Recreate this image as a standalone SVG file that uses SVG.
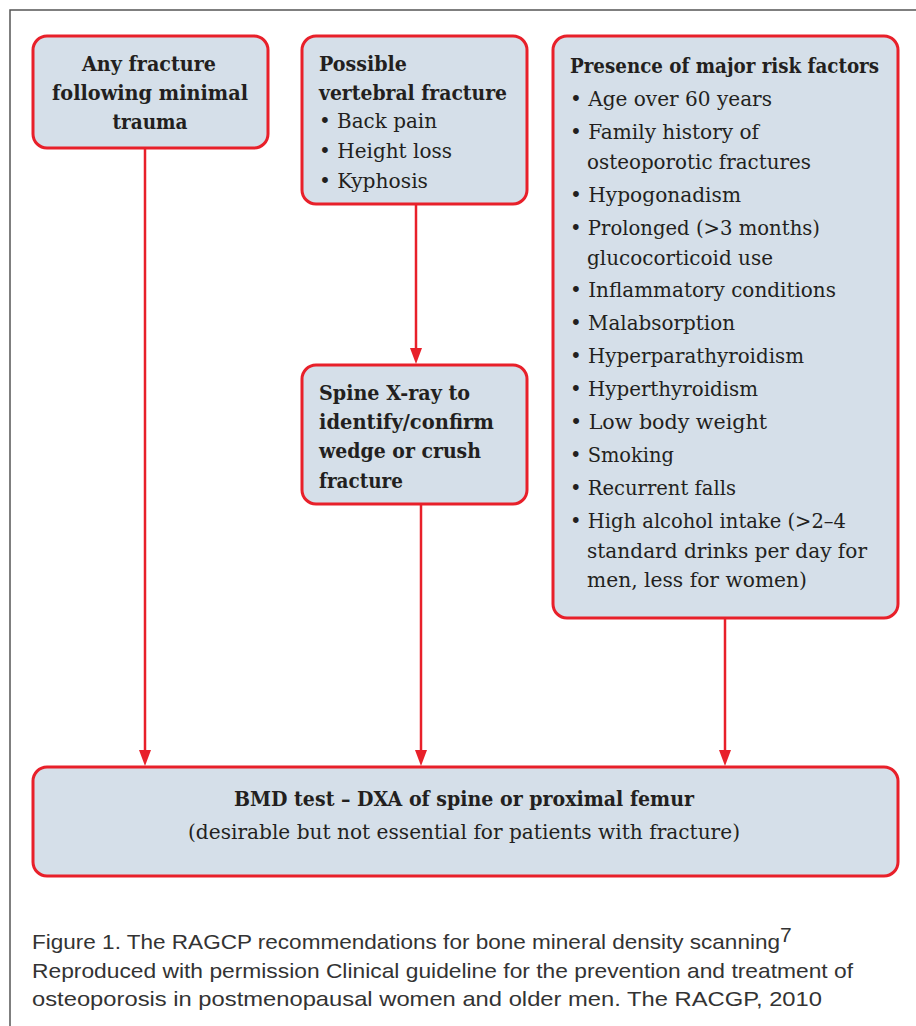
<svg xmlns="http://www.w3.org/2000/svg" width="916" height="1026" viewBox="0 0 916 1026">
<style>
.box{fill:#d5dfe9;stroke:#e8202a;stroke-width:3}
.t{font-family:"DejaVu Serif","Liberation Serif",serif;font-size:20.5px;fill:#231f20}
.b{font-weight:bold}
.c{text-anchor:middle}
.conn{stroke:#e8202a;stroke-width:2.5;fill:none}
.cap{font-family:"Liberation Sans",Arial,sans-serif;font-size:21px;fill:#333}
</style>
<rect width="916" height="1026" fill="#ffffff"/>
<path d="M10,1026 V10 H916" fill="none" stroke="#555" stroke-width="1.5"/>

<g id="connectors">
<line class="conn" x1="145" y1="149" x2="145" y2="752"/>
<polygon points="139,750 151,750 145,766" fill="#e8202a"/>
<line class="conn" x1="416" y1="205" x2="416" y2="350"/>
<polygon points="410,348 422,348 416,364" fill="#e8202a"/>
<line class="conn" x1="421" y1="505" x2="421" y2="752"/>
<polygon points="415,750 427,750 421,766" fill="#e8202a"/>
<line class="conn" x1="725" y1="619" x2="725" y2="752"/>
<polygon points="719,750 731,750 725,766" fill="#e8202a"/>
</g>

<g id="n1">
<rect class="box" x="33" y="36" width="235" height="112" rx="14"/>
<text class="t b c" x="149" y="71" textLength="134" lengthAdjust="spacingAndGlyphs">Any fracture</text>
<text class="t b c" x="150" y="100" textLength="196" lengthAdjust="spacingAndGlyphs">following minimal</text>
<text class="t b c" x="150" y="129" textLength="75" lengthAdjust="spacingAndGlyphs">trauma</text>
</g>

<g id="n2">
<rect class="box" x="302" y="36" width="225" height="168" rx="14"/>
<text class="t b" x="319" y="71" textLength="88" lengthAdjust="spacingAndGlyphs">Possible</text>
<text class="t b" x="319" y="100" textLength="188" lengthAdjust="spacingAndGlyphs">vertebral fracture</text>
<text class="t" x="319" y="128" textLength="118" lengthAdjust="spacingAndGlyphs">• Back pain</text>
<text class="t" x="319" y="158" textLength="133" lengthAdjust="spacingAndGlyphs">• Height loss</text>
<text class="t" x="319" y="188" textLength="109" lengthAdjust="spacingAndGlyphs">• Kyphosis</text>
</g>

<g id="n3">
<rect class="box" x="553" y="36" width="345" height="582" rx="14"/>
<text class="t b" x="570" y="73" textLength="309" lengthAdjust="spacingAndGlyphs">Presence of major risk factors</text>
<text class="t" x="570" y="106" textLength="202" lengthAdjust="spacingAndGlyphs">• Age over 60 years</text>
<text class="t" x="570" y="139" textLength="189" lengthAdjust="spacingAndGlyphs">• Family history of</text>
<text class="t" x="587" y="169" textLength="224" lengthAdjust="spacingAndGlyphs">osteoporotic fractures</text>
<text class="t" x="570" y="202" textLength="171" lengthAdjust="spacingAndGlyphs">• Hypogonadism</text>
<text class="t" x="570" y="235" textLength="250" lengthAdjust="spacingAndGlyphs">• Prolonged (&gt;3 months)</text>
<text class="t" x="587" y="265" textLength="186" lengthAdjust="spacingAndGlyphs">glucocorticoid use</text>
<text class="t" x="570" y="297" textLength="266" lengthAdjust="spacingAndGlyphs">• Inflammatory conditions</text>
<text class="t" x="570" y="330" textLength="165" lengthAdjust="spacingAndGlyphs">• Malabsorption</text>
<text class="t" x="570" y="363" textLength="234" lengthAdjust="spacingAndGlyphs">• Hyperparathyroidism</text>
<text class="t" x="570" y="396" textLength="188" lengthAdjust="spacingAndGlyphs">• Hyperthyroidism</text>
<text class="t" x="570" y="429" textLength="197" lengthAdjust="spacingAndGlyphs">• Low body weight</text>
<text class="t" x="570" y="462" textLength="104" lengthAdjust="spacingAndGlyphs">• Smoking</text>
<text class="t" x="570" y="495" textLength="166" lengthAdjust="spacingAndGlyphs">• Recurrent falls</text>
<text class="t" x="570" y="528" textLength="276" lengthAdjust="spacingAndGlyphs">• High alcohol intake (&gt;2–4</text>
<text class="t" x="587" y="558" textLength="280" lengthAdjust="spacingAndGlyphs">standard drinks per day for</text>
<text class="t" x="587" y="587" textLength="220" lengthAdjust="spacingAndGlyphs">men, less for women)</text>
</g>

<g id="n4">
<rect class="box" x="302" y="365" width="225" height="139" rx="14"/>
<text class="t b" x="319" y="400" textLength="151" lengthAdjust="spacingAndGlyphs">Spine X-ray to</text>
<text class="t b" x="319" y="429" textLength="175" lengthAdjust="spacingAndGlyphs">identify/confirm</text>
<text class="t b" x="319" y="458" textLength="162" lengthAdjust="spacingAndGlyphs">wedge or crush</text>
<text class="t b" x="319" y="488" textLength="84" lengthAdjust="spacingAndGlyphs">fracture</text>
</g>

<g id="n5">
<rect class="box" x="33" y="767" width="865" height="109" rx="14"/>
<text class="t b c" x="464" y="806" textLength="460" lengthAdjust="spacingAndGlyphs">BMD test – DXA of spine or proximal femur</text>
<text class="t c" x="464" y="839" textLength="552" lengthAdjust="spacingAndGlyphs">(desirable but not essential for patients with fracture)</text>
</g>

<g id="caption">
<text class="cap" x="32" y="949" textLength="748" lengthAdjust="spacingAndGlyphs">Figure 1. The RAGCP recommendations for bone mineral density scanning</text>
<text class="cap" x="780" y="942" font-size="12">7</text>
<text class="cap" x="32" y="978" textLength="821" lengthAdjust="spacingAndGlyphs">Reproduced with permission Clinical guideline for the prevention and treatment of</text>
<text class="cap" x="32" y="1006" textLength="790" lengthAdjust="spacingAndGlyphs">osteoporosis in postmenopausal women and older men. The RACGP, 2010</text>
</g>
</svg>
